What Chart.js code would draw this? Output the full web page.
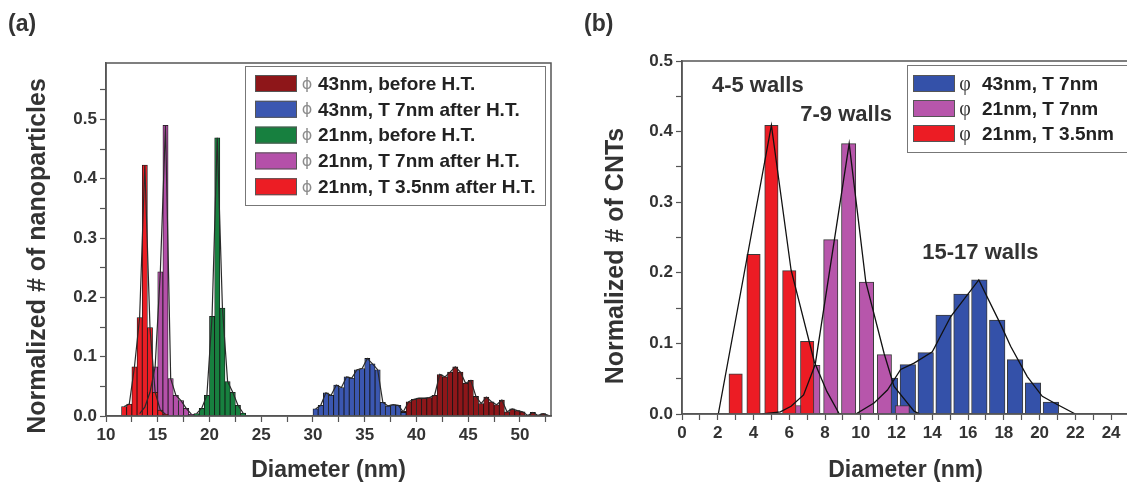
<!DOCTYPE html>
<html>
<head>
<meta charset="utf-8">
<script src="https://cdn.jsdelivr.net/npm/chart.js@4.4.1/dist/chart.umd.min.js"></script>
<style>
  html, body { margin: 0; padding: 0; background: #fff; overflow: hidden; }
  body { width: 1127px; height: 484px; position: relative; }
  canvas { position: absolute; top: 0; }
  #chartA { left: 0; }
  #chartB { left: 570px; }
</style>
</head>
<body>
<canvas id="chartA" width="570" height="484"></canvas>
<canvas id="chartB" width="570" height="484"></canvas>
<script>
// (a) nanoparticle diameters, 0.5 nm bins (bin centres)
const aDarkRedX = [38.75, 39.25, 39.75, 40.25, 40.75, 41.25, 41.75, 42.25, 42.75, 43.25, 43.75, 44.25, 44.75, 45.25, 45.75,
                   46.25, 46.75, 47.25, 47.75, 48.25, 48.75, 49.25, 49.75, 50.25, 50.75, 51.25, 51.75, 52.25, 52.75];
const aDarkRedY = [0.008, 0.024, 0.028, 0.030, 0.030, 0.031, 0.035, 0.070, 0.066, 0.074, 0.083, 0.074, 0.055, 0.060, 0.033,
                   0.021, 0.032, 0.024, 0.019, 0.027, 0.007, 0.012, 0.009, 0.007, 0.001, 0.006, 0.001, 0.004, 0.001];
const aBlueX = [30.25, 30.75, 31.25, 31.75, 32.25, 32.75, 33.25, 33.75, 34.25, 34.75, 35.25, 35.75, 36.25, 36.75, 37.25, 37.75, 38.25, 38.75];
const aBlueY = [0.012, 0.018, 0.039, 0.035, 0.052, 0.048, 0.066, 0.064, 0.078, 0.080, 0.097, 0.088, 0.078, 0.023, 0.017, 0.019, 0.018, 0.006];
const aGreenX = [18.75, 19.25, 19.75, 20.25, 20.75, 21.25, 21.75, 22.25, 22.75, 23.25];
const aGreenY = [0.004, 0.013, 0.035, 0.168, 0.469, 0.182, 0.058, 0.040, 0.018, 0.005];
const aPurpleX = [13.25, 13.75, 14.25, 14.75, 15.25, 15.75, 16.25, 16.75, 17.25, 17.75, 18.25];
const aPurpleY = [0.004, 0.015, 0.040, 0.083, 0.243, 0.490, 0.063, 0.035, 0.026, 0.013, 0.003];
const aRedX = [11.75, 12.25, 12.75, 13.25, 13.75, 14.25, 14.75, 15.25, 15.75];
const aRedY = [0.016, 0.020, 0.083, 0.166, 0.423, 0.149, 0.040, 0.010, 0.003];
const aLabels = ['43nm, before H.T.', '43nm, T 7nm after H.T.', '21nm, before H.T.', '21nm, T 7nm after H.T.', '21nm, T 3.5nm after H.T.'];
const aColors = ['#8e1619', '#3b57b1', '#17803f', '#b450a9', '#ec1d24'];

// (b) CNT diameters
const bRedX = [3, 4, 5, 6, 7];
const bRedY = [0.057, 0.226, 0.409, 0.203, 0.103];
const bPurpleX = [6.32, 7.32, 8.32, 9.32, 10.32, 11.32, 12.32];
const bPurpleY = [0.012, 0.069, 0.247, 0.383, 0.187, 0.084, 0.012];
const bBlueX = [11.63, 12.63, 13.63, 14.63, 15.63, 16.63, 17.63, 18.63, 19.63, 20.63];
const bBlueY = [0.051, 0.070, 0.087, 0.140, 0.170, 0.190, 0.133, 0.077, 0.044, 0.017];
// fitted curves
const bRedFitX = [2.03, 5.0, 6.1, 7.4, 8.1, 8.8];
const bRedFitY = [0, 0.409, 0.204, 0.074, 0.032, 0];
const bPurpleFitX = [4.5, 5.5, 6.1, 6.8, 7.45, 9.35, 10.28, 11.3, 11.86, 12.98, 13.3];
const bPurpleFitY = [0, 0.003, 0.011, 0.027, 0.070, 0.383, 0.187, 0.086, 0.039, 0.004, 0];
const bBlueFitX = [9.72, 10.74, 11.49, 12.23, 12.98, 14.0, 15.03, 16.6, 17.8, 18.38, 19.31, 20.15, 20.8, 22.0];
const bBlueFitY = [0, 0.0155, 0.034, 0.063, 0.072, 0.088, 0.138, 0.190, 0.128, 0.096, 0.053, 0.025, 0.016, 0];
const bLabels = ['43nm, T 7nm', '21nm, T 7nm', '21nm, T 3.5nm'];
const bColors = ['#3451a9', '#b756ab', '#ec1c24'];
const bNotes = ['4-5 walls', '7-9 walls', '15-17 walls'];

const FONT = "'Liberation Sans', Arial, sans-serif";
const TXT = '#333';
const AXIS = '#555';
const W = 570, H = 484;

// plot boxes (canvas pixels)
const boxA = { left: 106, right: 551, top: 63, bottom: 416 };
const boxB = { left: 112, right: 559, top: 61, bottom: 414 };

Chart.defaults.font.family = FONT;

function pts(xs, ys) {
  return xs.map((x, i) => ({ x: x, y: ys[i] }));
}

function yLabel(v) {
  const t = Math.round(v * 100);
  return t % 10 === 0 ? (t / 100).toFixed(1) : '';
}

function makeScales(box, xmin, xmax, xstep, xlab, ymax) {
  const tickFont = { family: FONT, size: 17, weight: 'bold' };
  const grid = () => ({ display: true, drawOnChartArea: false, drawTicks: true, tickLength: 6,
                        tickColor: AXIS, tickWidth: 1.2, offset: false });
  const border = () => ({ display: true, color: AXIS, width: 1.5 });
  return {
    x: {
      type: 'linear', min: xmin, max: xmax, offset: false, grid: grid(), border: border(),
      ticks: { stepSize: xstep, includeBounds: false, autoSkip: false, maxRotation: 0, minRotation: 0,
               font: tickFont, color: TXT, padding: 3, callback: xlab },
      title: { display: true, text: 'Diameter (nm)', color: TXT,
               font: { family: FONT, size: 23, weight: 'bold' }, padding: 0 },
      afterFit(s) { s.height = H - box.bottom; }
    },
    y: {
      type: 'linear', min: 0, max: ymax, stacked: false, grid: grid(), border: border(),
      ticks: { stepSize: 0.05, includeBounds: false, autoSkip: false,
               font: tickFont, color: TXT, padding: 3, callback: yLabel },
      afterFit(s) { s.width = box.left; }
    }
  };
}

const framePlugin = {
  id: 'frame',
  afterDraw(chart) {
    const { ctx, chartArea: a } = chart;
    ctx.save();
    ctx.strokeStyle = AXIS;
    ctx.lineWidth = 1.5;
    ctx.strokeRect(a.left, a.top, a.right - a.left, a.bottom - a.top);
    ctx.restore();
  }
};

// panel letter, rotated y title, notes and legend box
function overlay(cfg) {
  return {
    id: 'overlay',
    afterDraw(chart) {
      const ctx = chart.ctx;
      ctx.save();
      ctx.fillStyle = TXT;
      ctx.font = 'bold 23px ' + FONT;
      ctx.textAlign = 'left';
      ctx.textBaseline = 'alphabetic';
      ctx.fillText(cfg.letter, cfg.letterX, 31);

      ctx.save();
      ctx.translate(cfg.yTitleX, 256);
      ctx.rotate(-Math.PI / 2);
      ctx.font = 'bold 25px ' + FONT;
      ctx.textAlign = 'center';
      ctx.textBaseline = 'middle';
      ctx.fillText(cfg.yTitle, 0, 0);
      ctx.restore();

      if (cfg.notes) {
        const xs = chart.scales.x, ys = chart.scales.y;
        ctx.font = 'bold 22px ' + FONT;
        ctx.textAlign = 'center';
        ctx.textBaseline = 'middle';
        cfg.notes.forEach((t, i) => {
          ctx.fillText(t, xs.getPixelForValue(cfg.noteX[i]), ys.getPixelForValue(cfg.noteY[i]));
        });
      }

      const L = cfg.legend;
      ctx.fillStyle = '#fff';
      ctx.fillRect(L.x, L.y, L.w, L.h);
      ctx.strokeStyle = '#777';
      ctx.lineWidth = 1;
      ctx.strokeRect(L.x + 0.5, L.y + 0.5, L.w, L.h);
      L.labels.forEach((t, i) => {
        const cy = L.row0 + i * L.step;
        ctx.fillStyle = L.colors[i];
        ctx.fillRect(L.swX, cy - 8.5, 42, 17);
        ctx.strokeStyle = '#555';
        ctx.strokeRect(L.swX + 0.5, cy - 8, 41, 16);
        ctx.fillStyle = L.phiColor;
        ctx.font = L.phiFont;
        ctx.textAlign = 'center';
        ctx.textBaseline = 'middle';
        ctx.fillText(L.phi, L.phiX, cy + 1);
        ctx.fillStyle = '#222';
        ctx.font = 'bold 19px ' + FONT;
        ctx.textAlign = 'left';
        ctx.fillText(t, L.textX, cy + 1);
      });
      ctx.restore();
    }
  };
}

// ---------- (a) ----------
const aXmin = 10, aXmax = 53;
const aPx = (boxA.right - boxA.left) / (aXmax - aXmin);
const aSeries = [[aDarkRedX, aDarkRedY], [aBlueX, aBlueY], [aGreenX, aGreenY], [aPurpleX, aPurpleY], [aRedX, aRedY]];
const aDatasets = [];
aSeries.forEach(([xs, ys], i) => {
  aDatasets.push({
    type: 'bar', label: aLabels[i], data: pts(xs, ys), stack: 'one',
    backgroundColor: aColors[i], borderColor: '#151515', borderWidth: 0.8, borderSkipped: 'start',
    barThickness: 0.5 * aPx, order: 10 - i
  });
  aDatasets.push({
    type: 'line', data: pts(xs, ys), borderColor: '#2a2a2a', borderWidth: 1.2,
    pointRadius: 0, fill: false, tension: 0, order: 0
  });
});

new Chart(document.getElementById('chartA'), {
  type: 'bar',
  data: { datasets: aDatasets },
  options: {
    responsive: false, maintainAspectRatio: false, animation: false, events: [],
    layout: { padding: { left: 0, right: W - boxA.right, top: boxA.top, bottom: 0 } },
    scales: makeScales(boxA, aXmin, aXmax, 2.5, v => (Math.abs(v % 5) < 1e-6 ? String(v) : ''), 0.595),
    plugins: { legend: { display: false }, tooltip: { enabled: false } }
  },
  plugins: [framePlugin, overlay({
    letter: '(a)', letterX: 8, yTitle: 'Normalized # of nanoparticles', yTitleX: 38,
    legend: { x: 245, y: 66, w: 300, h: 139, row0: 83.5, step: 25.8, swX: 255,
              phi: '\u03D5', phiX: 307, phiColor: '#8c8c8c', phiFont: '16px "DejaVu Sans"', textX: 318,
              labels: aLabels, colors: aColors }
  })]
});

// ---------- (b) ----------
const bXmin = 0, bXmax = 25;
const bPx = (boxB.right - boxB.left) / (bXmax - bXmin);
const bBars = [[bBlueX, bBlueY, 0.87], [bPurpleX, bPurpleY, 0.8], [bRedX, bRedY, 0.75]];
const bFits = [[bBlueFitX, bBlueFitY], [bPurpleFitX, bPurpleFitY], [bRedFitX, bRedFitY]];
const bDatasets = [];
bBars.forEach(([xs, ys, w], i) => {
  bDatasets.push({
    type: 'bar', label: bLabels[i], data: pts(xs, ys), stack: 'one',
    backgroundColor: bColors[i], borderColor: '#3a3a3a', borderWidth: 1, borderSkipped: 'start',
    barThickness: w * bPx, order: 10 - i
  });
});
bFits.forEach(([xs, ys]) => {
  bDatasets.push({
    type: 'line', data: pts(xs, ys), borderColor: '#111', borderWidth: 1.3,
    pointRadius: 0, fill: false, tension: 0, order: 0
  });
});

new Chart(document.getElementById('chartB'), {
  type: 'bar',
  data: { datasets: bDatasets },
  options: {
    responsive: false, maintainAspectRatio: false, animation: false, events: [],
    layout: { padding: { left: 0, right: W - boxB.right, top: boxB.top, bottom: 0 } },
    scales: makeScales(boxB, bXmin, bXmax, 1, v => (Math.round(v) % 2 === 0 ? String(Math.round(v)) : ''), 0.5),
    plugins: { legend: { display: false }, tooltip: { enabled: false } }
  },
  plugins: [framePlugin, overlay({
    letter: '(b)', letterX: 14, yTitle: 'Normalized # of CNTs', yTitleX: 46,
    notes: bNotes, noteX: [4.24, 9.18, 16.69], noteY: [0.465, 0.424, 0.228],
    legend: { x: 337, y: 65, w: 240, h: 87, row0: 83.5, step: 25, swX: 343,
              phi: '\u03C6', phiX: 395, phiColor: '#333', phiFont: '20px "Liberation Serif"', textX: 412,
              labels: bLabels, colors: bColors }
  })]
});
</script>
</body>
</html>
